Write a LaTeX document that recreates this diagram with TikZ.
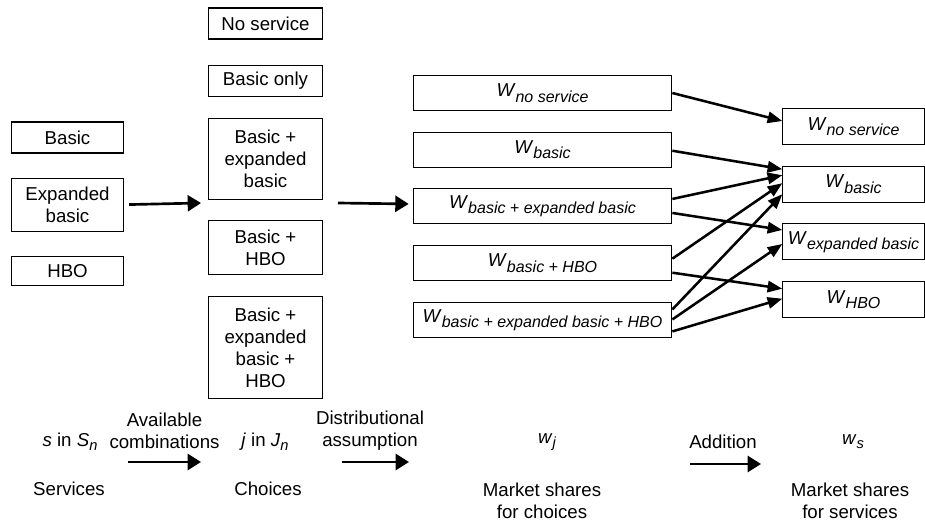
\documentclass[tikz,border=0pt]{standalone}
\usepackage{fontspec}
\setmainfont{Liberation Sans}
\usetikzlibrary{arrows.meta, positioning, calc}
\newcommand{\wsub}[2]{\textit{#1}\raisebox{-4pt}{\fontsize{12}{13}\selectfont\itshape #2}}
\newcommand{\tsub}[2]{\textit{#1}\raisebox{-3pt}{\fontsize{11}{12}\selectfont\itshape #2}}

\begin{document}
\begin{tikzpicture}
    [
        x=0.75pt, y=-0.75pt,
        font=\fontsize{14}{16.5}\selectfont,
        node distance=15.5pt,
        sbox/.style  ={draw=black, line width=0.8pt, inner sep=2pt, align=center,
                        minimum width=84pt},
        cbox/.style  ={draw=black, line width=0.8pt, inner sep=2pt, align=center,
                        minimum width=85pt},
        wbox/.style  ={draw=black, line width=0.8pt, inner sep=2pt,
                        minimum width=194pt, minimum height=26.25pt},
        rbox/.style  ={draw=black, line width=0.8pt, inner sep=2pt,
                        minimum width=106pt, minimum height=27pt},
        sarc/.style  ={-{Triangle[length=10pt,width=12pt]}, line width=2pt},
        oarc/.style  ={-{Triangle[length=11pt,width=8.5pt]}, line width=1.9pt},
        lbl/.style   ={align=center, inner sep=0pt}
    ]
    \useasboundingbox (0,0) rectangle (925,523);

    % services
    \node[sbox, minimum height=23.25pt] (sb)  at (67.5,137.5) {Basic};
    \node[sbox, minimum height=39.75pt] (se)  [below=18pt of sb] {Expanded\\basic};
    \node[sbox, minimum height=21.75pt] (sh)  [below=18.5pt of se] {HBO};

    % choices
    \node[cbox, minimum height=23.25pt] (cn)  at (265.5,23.5) {No service};
    \node[cbox, minimum height=23.25pt] (cb)  [below=19pt of cn] {Basic only};
    \node[cbox, minimum height=60.75pt] (cbe) [below=of cb] {Basic +\\expanded\\basic};
    \node[cbox, minimum height=40.5pt]  (cbh) [below=of cbe] {Basic +\\HBO};
    \node[cbox, minimum height=76.5pt]  (cal) [below=of cbh] {Basic +\\expanded\\basic +\\HBO};

    % market shares for choices
    \node[wbox]     (wn)    at (542.5,93)        {\wsub{W}{no service}};
    \node[wbox]     (wb)    [below=of wn]        {\wsub{W}{basic}};
    \node[wbox]     (wbe)   [below=of wb]        {\wsub{W}{basic + expanded basic}};
    \node[wbox]     (wbh)   [below=of wbe]       {\wsub{W}{basic + HBO}};
    \node[wbox]     (wal)   [below=of wbh]       {\wsub{W}{basic + expanded basic + HBO}};

    % market shares for services
    \node[rbox]     (rn)    at (853.5,126.5)     {\wsub{W}{no service}};
    \node[rbox]     (rb)    [below=of rn]        {\wsub{W}{basic}};
    \node[rbox]     (re)    [below=of rb]        {\wsub{W}{expanded basic}};
    \node[rbox]     (rh)    [below=of re]        {\wsub{W}{HBO}};

    \coordinate (c1) at (201,203);
    \coordinate (c2) at (338,203);
    \draw[sarc]     ($(se.east)+(5,0)$) -- (c1);
    \draw[sarc]     (c2) -- ($(wbe.west)+(-4,-2.5)$);

    \draw[oarc]     ($(wn.east)+(0,0)$)      -- ($(rn.west)+(0,-5.5)$);
    \draw[oarc]     ($(wb.east)+(0,1)$)      -- ($(rb.west)+(0,-15)$);
    \draw[oarc]     ($(wbe.east)+(0,-7.5)$)  -- ($(rb.west)+(0,-9)$);
    \draw[oarc]     ($(wbe.east)+(0,6.5)$)   -- ($(re.west)+(0,-12)$);
    \draw[oarc]     ($(wbh.east)+(0,-4.5)$)  -- ($(rb.west)+(0,-1)$);
    \draw[oarc]     ($(wbh.east)+(0,9.5)$)   -- ($(rh.west)+(0,-11)$);
    \draw[oarc]     ($(wal.east)+(0,-10.5)$) -- ($(rb.west)+(0,10)$);
    \draw[oarc]     ($(wal.east)+(0,-0.5)$)  -- ($(re.west)+(0,2)$);
    \draw[oarc]     ($(wal.east)+(0,11.5)$)  -- ($(rh.west)+(0,-1)$);

    % bottom row
    \node[lbl]      (ss)    at (70,442)          {\textit{s} in \tsub{S}{n}};
    \node[lbl]      (ac)    at (164.5,430.5)     {Available\\combinations};
    \node[lbl]      (jj)    at (265,442)         {\textit{j} in \tsub{J}{n}};
    \node[lbl]      (da)    at (370,430.5)       {Distributional\\assumption};
    \node[lbl]      (ww)    at (547,442)         {\tsub{w}{j}};
    \node[lbl]      (ad)    at (723,442)         {Addition};
    \node[lbl]      (ws)    at (853,442)         {\tsub{w}{s}};

    \node[lbl]      (sv)    at (69,489)          {Services};
    \node[lbl]      (ch)    at (268,489)         {Choices};
    \node[lbl]      (mc)    at (542,500.5)       {Market shares\\for choices};
    \node[lbl]      (ms)    at (850,500.5)       {Market shares\\for services};

    \coordinate (a1s) at (128,462);
    \coordinate (a1e) at (201,462);
    \coordinate (a2s) at (342,462);
    \coordinate (a2e) at (409,462);
    \coordinate (a3s) at (690,464);
    \coordinate (a3e) at (761,464);
    \draw[sarc]     (a1s) -- (a1e);
    \draw[sarc]     (a2s) -- (a2e);
    \draw[sarc]     (a3s) -- (a3e);

\end{tikzpicture}
\end{document}
